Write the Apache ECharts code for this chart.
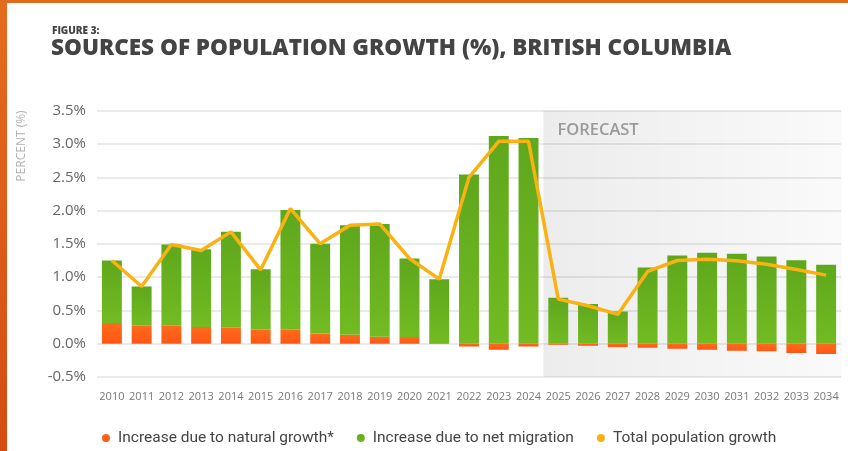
<!DOCTYPE html>
<html>
<head>
<meta charset="utf-8">
<script src="https://cdn.jsdelivr.net/npm/echarts@6/dist/echarts.min.js"></script>
<style>
html,body{margin:0;padding:0;background:#fff;}
#chart{width:848px;height:451px;}
</style>
</head>
<body>
<div id="chart"></div>
<script>
const years = ['2010','2011','2012','2013','2014','2015','2016','2017','2018','2019','2020','2021','2022','2023','2024','2025','2026','2027','2028','2029','2030','2031','2032','2033','2034'];
const naturalGrowth = [0.31,0.27,0.27,0.25,0.24,0.21,0.21,0.155,0.135,0.105,0.10,0.01,-0.04,-0.09,-0.04,-0.015,-0.03,-0.05,-0.06,-0.075,-0.09,-0.105,-0.115,-0.14,-0.155];
const netMigration = [0.94,0.59,1.22,1.17,1.44,0.91,1.80,1.345,1.645,1.695,1.18,0.96,2.54,3.12,3.09,0.69,0.595,0.485,1.145,1.325,1.365,1.35,1.31,1.255,1.185];
const totalGrowth = [1.25,0.86,1.49,1.40,1.68,1.11,2.03,1.50,1.78,1.80,1.28,0.97,2.50,3.04,3.04,0.67,0.57,0.44,1.085,1.25,1.27,1.245,1.195,1.115,1.03];
const yTicks = {min:-0.5, max:3.5, interval:0.5};
const forecastStart = '2025';

const chart = echarts.init(document.getElementById('chart'));
const FONT = 'Open Sans';
const option = {
  animation:false,
  backgroundColor:'#fff',
  textStyle:{fontFamily:FONT},
  grid:{left:97, right:7, top:110.7, bottom:74, containLabel:false},
  legend:{
    bottom:0, left:97,
    icon:'circle', itemWidth:14, itemHeight:8, itemGap:23,
    textStyle:{fontFamily:'Roboto', fontSize:15.5, color:'#444'},
    data:['Increase due to natural growth*','Increase due to net migration','Total population growth']
  },
  xAxis:{
    type:'category', data:years,
    axisLine:{show:false}, axisTick:{show:false},
    axisLabel:{color:'#777', fontSize:11, margin:14, interval:0, fontFamily:FONT}
  },
  yAxis:{
    type:'value', min:yTicks.min, max:yTicks.max, interval:yTicks.interval,
    axisLine:{show:false}, axisTick:{show:false},
    splitLine:{lineStyle:{color:'#e3e3e3', width:1.5}},
    axisLabel:{color:'#666', fontSize:15, margin:11, formatter:v=>v.toFixed(1)+'%'}
  },
  series:[
    {
      name:'Increase due to natural growth*', type:'bar', stack:'s', barWidth:'67%', z:5,
      itemStyle:{color:new echarts.graphic.LinearGradient(0,0,0,1,[{offset:0,color:'#ff6a1e'},{offset:1,color:'#ff5714'}])},
      data:naturalGrowth
    },
    {
      name:'Increase due to net migration', type:'bar', stack:'s', barWidth:'67%', z:5,
      itemStyle:{color:new echarts.graphic.LinearGradient(0,0,0,1,[{offset:0,color:'#5fa71c'},{offset:1,color:'#72bb22'}])},
      data:netMigration
    },
    {
      name:'Total population growth', type:'line', z:6,
      showSymbol:false, symbol:'circle',
      itemStyle:{color:'#f9b214'},
      lineStyle:{color:'#f9b214', width:3.5},
      data:totalGrowth
    }
  ]
};
chart.setOption(option);

const idx = years.indexOf(forecastStart);
const xA = chart.convertToPixel({xAxisIndex:0}, years[idx-1]);
const xB = chart.convertToPixel({xAxisIndex:0}, years[idx]);
const xStart = (xA + xB)/2;
const yTop = chart.convertToPixel({yAxisIndex:0}, yTicks.max);
const yBot = chart.convertToPixel({yAxisIndex:0}, yTicks.min);
const xEnd = 848;

chart.setOption({
  graphic:[
    {type:'rect', z:1, silent:true, shape:{x:xStart, y:yTop, width:xEnd-xStart-6, height:yBot-yTop},
     style:{fill:new echarts.graphic.LinearGradient(0,0,1,0,[{offset:0,color:'rgba(0,0,0,0.075)'},{offset:1,color:'rgba(0,0,0,0.02)'}])}},
    {type:'text', z:3, x:xStart+14, y:yTop+20, style:{text:'FORECAST', fill:'#9a9a9a', font:'600 16.5px "Open Sans"', textVerticalAlign:'middle'}},
    {type:'rect', z:10, shape:{x:0,y:0,width:7,height:451},
     style:{fill:new echarts.graphic.LinearGradient(0,0,0,1,[{offset:0,color:'#e56c1f'},{offset:1,color:'#d44c12'}])}},
    {type:'rect', z:10, shape:{x:0,y:0,width:848,height:3}, style:{fill:'#e06a1f'}},
    {type:'text', z:10, x:52, y:31, style:{text:'FIGURE 3:', fill:'#444', font:'800 10px "Open Sans"', textVerticalAlign:'middle'}},
    {type:'text', z:10, x:51, y:49, style:{text:'SOURCES OF POPULATION GROWTH (%), BRITISH COLUMBIA', fill:'#444', font:'800 22.5px "Open Sans"', textVerticalAlign:'middle'}},
    {type:'text', z:10, x:22, y:146, rotation:Math.PI/2, style:{text:'PERCENT (%)', fill:'#b0b0b0', font:'12px "Open Sans"', textAlign:'center', textVerticalAlign:'middle'}}
  ]
});
</script>
</body>
</html>
